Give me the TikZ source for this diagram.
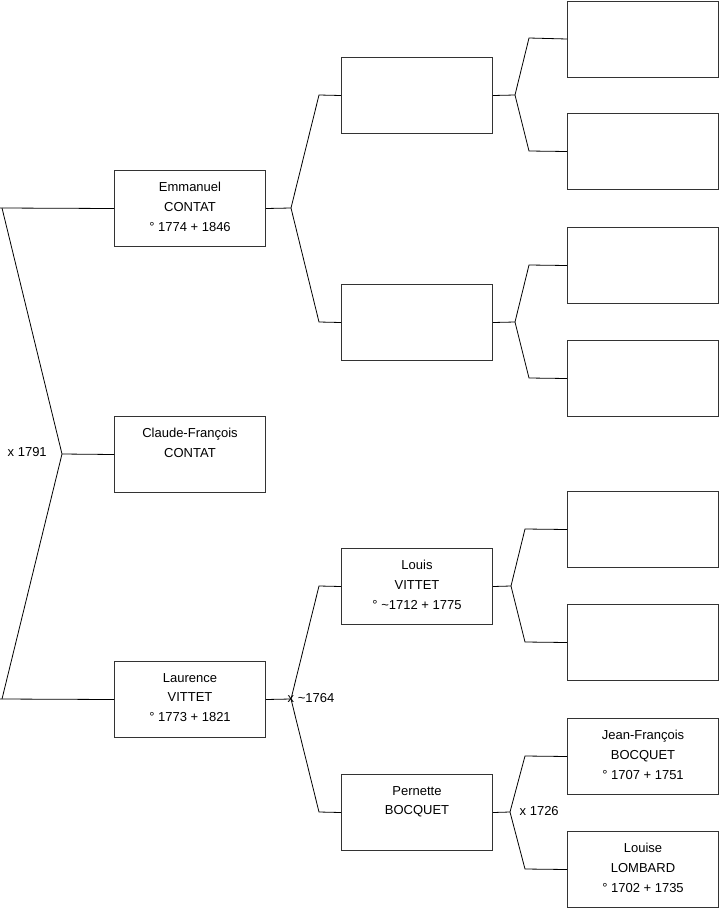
\documentclass[tikz,border=0pt]{standalone}
\usepackage{fontspec}
\setmainfont{Liberation Sans}
\begin{document}
\begin{tikzpicture}[x=1pt,y=-1pt,
  box/.style={draw=black!80, line width=1pt, minimum width=151pt, minimum height=76pt, inner sep=0pt, anchor=north west},
  nametext/.style={font=\fontsize{13}{19.8}\selectfont, align=center, anchor=north, inner sep=0pt},
  lbl/.style={font=\fontsize{13}{15}\selectfont, inner sep=0pt},
  link/.style={line width=0.8pt, black}]
\useasboundingbox (0,0) rectangle (719,908);
% generation 1
\node[box] (em) at (114,170) {};
\node[box] (cf) at (114,416) {};
\node[box] (la) at (114,661) {};
% generation 2
\node[box] (g1) at (341,57) {};
\node[box] (g2) at (341,284) {};
\node[box] (lo) at (341,548) {};
\node[box] (pe) at (341,774) {};
% generation 3
\node[box] (h1) at (567,0.5) {};
\node[box] (h2) at (567,113) {};
\node[box] (h3) at (567,227) {};
\node[box] (h4) at (567,340) {};
\node[box] (h5) at (567,491) {};
\node[box] (h6) at (567,604) {};
\node[box] (jf) at (567,718) {};
\node[box] (lm) at (567,831) {};
% texts
\node[nametext] (emt) at ([yshift=-12]em.north) {Emmanuel\\CONTAT\\° 1774 + 1846};
\node[nametext] (cft) at ([yshift=-12]cf.north) {Claude-François\\CONTAT};
\node[nametext] (lat) at ([yshift=-12]la.north) {Laurence\\VITTET\\° 1773 + 1821};
\node[nametext] (lot) at ([yshift=-12]lo.north) {Louis\\VITTET\\° \textasciitilde 1712 + 1775};
\node[nametext] (pet) at ([yshift=-12]pe.north) {Pernette\\BOCQUET};
\node[nametext] (jft) at ([yshift=-12]jf.north) {Jean-François\\BOCQUET\\° 1707 + 1751};
\node[nametext] (lmt) at ([yshift=-12]lm.north) {Louise\\LOMBARD\\° 1702 + 1735};
% connectors: root
\coordinate (r0a) at (0,208);
\coordinate (r0b) at (0,699);
\coordinate (f0a) at (2,208);
\coordinate (f0b) at (2,699);
\coordinate (f0) at (62,454);
\draw[link] (r0a) -- (em.west);
\draw[link] (r0b) -- (la.west);
\draw[link] (f0a) -- (f0) -- (f0b);
\draw[link] (f0) -- (cf.west);
\node[lbl, anchor=west] (m0) at (7.5,452) {x 1791};
% Emmanuel
\coordinate (f1) at (291,208);
\draw[link] (em.east) -- (f1);
\draw[link] (f1) -- (319,95) -- (g1.west);
\draw[link] (f1) -- (319,322) -- (g2.west);
% Laurence
\coordinate (f2) at (291,699);
\draw[link] (la.east) -- (f2);
\draw[link] (f2) -- (319,586) -- (lo.west);
\draw[link] (f2) -- (319,812) -- (pe.west);
\node[lbl, anchor=west] (m2) at (287.5,698) {x \textasciitilde 1764};
% g1
\coordinate (f3) at (515,95);
\draw[link] (g1.east) -- (f3);
\draw[link] (f3) -- (529,38) -- (h1.west);
\draw[link] (f3) -- (529,151) -- (h2.west);
% g2
\coordinate (f4) at (515,322);
\draw[link] (g2.east) -- (f4);
\draw[link] (f4) -- (529,265) -- (h3.west);
\draw[link] (f4) -- (529,378) -- (h4.west);
% Louis
\coordinate (f5) at (511,586);
\draw[link] (lo.east) -- (f5);
\draw[link] (f5) -- (525,529) -- (h5.west);
\draw[link] (f5) -- (525,642) -- (h6.west);
% Pernette
\coordinate (f6) at (510,812);
\draw[link] (pe.east) -- (f6);
\draw[link] (f6) -- (525,756) -- (jf.west);
\draw[link] (f6) -- (525,869) -- (lm.west);
\node[lbl, anchor=west] (m6) at (519.5,811) {x 1726};
\end{tikzpicture}
\end{document}
